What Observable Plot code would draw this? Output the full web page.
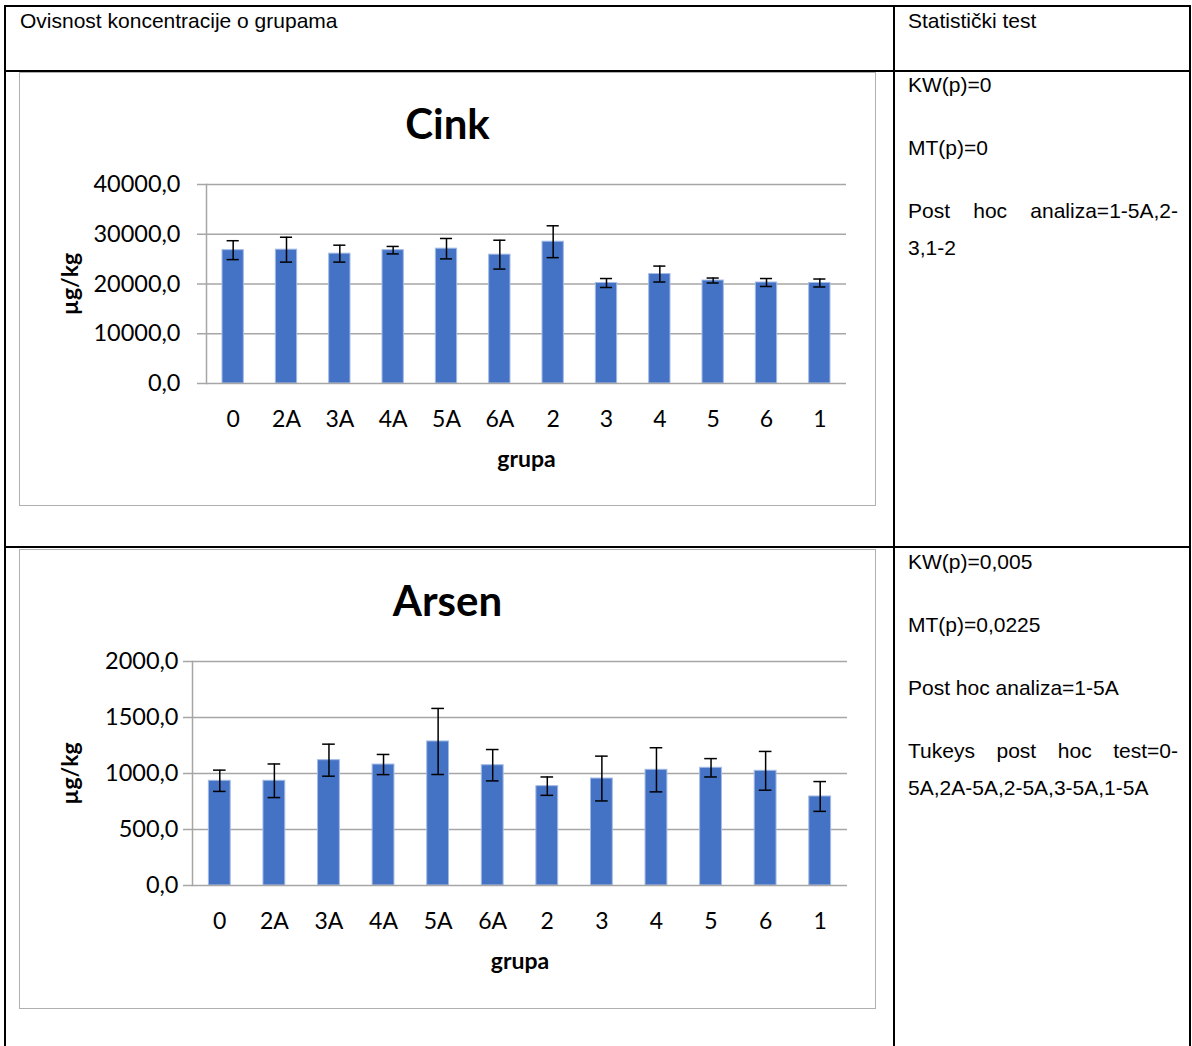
<!DOCTYPE html>
<html>
<head>
<meta charset="utf-8">
<script src="https://cdn.jsdelivr.net/npm/d3@7"></script>
<script src="https://cdn.jsdelivr.net/npm/@observablehq/plot@0.6"></script>
<style>
  body { margin: 0; background: #fff; }
  #page { position: relative; width: 1192px; height: 1046px; overflow: hidden; font-family: "Liberation Sans", Arial, sans-serif; color: #000; }
  .ln { position: absolute; background: #000; }
  .frame { position: absolute; border: 1.5px solid #b0b0b0; box-sizing: border-box; }
  .txt { position: absolute; font-size: 21px; white-space: nowrap; line-height: 24px; }
  .stats { position: absolute; left: 908px; width: 270px; font-size: 21px; line-height: 37px; }
  .stats p { margin: 0 0 26px 0; }
  .just { text-align: justify; text-align-last: justify; }
  .ctitle { position: absolute; left: 19px; width: 857px; text-align: center; font-family: Lato, sans-serif; font-weight: bold; font-size: 42px; line-height: 42px; }
  .chart { position: absolute; left: 19px; }
</style>
</head>
<body>
<div id="page">
  <!-- table grid -->
  <div class="ln" style="left:4px;top:5px;width:1187px;height:2px"></div>
  <div class="ln" style="left:4px;top:70px;width:1187px;height:2px"></div>
  <div class="ln" style="left:4px;top:546px;width:1187px;height:2px"></div>
  <div class="ln" style="left:4px;top:5px;width:2px;height:1041px"></div>
  <div class="ln" style="left:893px;top:5px;width:2px;height:1041px"></div>
  <div class="ln" style="left:1189px;top:5px;width:2px;height:1041px"></div>

  <div class="txt" style="left:20px;top:9px">Ovisnost koncentracije o grupama</div>
  <div class="txt" style="left:908px;top:9px">Statistički test</div>

  <div class="frame" style="left:19px;top:72px;width:857px;height:434px"></div>
  <div class="frame" style="left:19px;top:549px;width:857px;height:460px"></div>

  <div class="ctitle" style="top:102px">Cink</div>
  <div class="ctitle" style="top:579px">Arsen</div>

  <div class="chart" id="cink" style="top:160px"></div>
  <div class="chart" id="arsen" style="top:637px"></div>

  <div class="stats" style="top:66px">
    <p>KW(p)=0</p>
    <p>MT(p)=0</p>
    <p><span style="display:block" class="just">Post hoc analiza=1-5A,2-</span>3,1-2</p>
  </div>
  <div class="stats" style="top:543px">
    <p>KW(p)=0,005</p>
    <p>MT(p)=0,0225</p>
    <p>Post hoc analiza=1-5A</p>
    <p><span style="display:block" class="just">Tukeys post hoc test=0-</span>5A,2A-5A,2-5A,3-5A,1-5A</p>
  </div>
</div>
<script>
const groups = ["0", "2A", "3A", "4A", "5A", "6A", "2", "3", "4", "5", "6", "1"];
const cinkMean = [26800, 26900, 26100, 26800, 27100, 25900, 28500, 20200, 22000, 20700, 20300, 20200];
const cinkErr  = [1900, 2500, 1700, 750, 2050, 2900, 3200, 900, 1600, 500, 800, 800];
const arsenMean = [935, 935, 1119, 1080, 1286, 1074, 887, 955, 1033, 1051, 1024, 795];
const arsenErr  = [95, 150, 143, 90, 295, 140, 82, 200, 197, 82, 173, 133];
const cinkTicks = [0, 10000, 20000, 30000, 40000];
const arsenTicks = [0, 500, 1000, 1500, 2000];
const yLabel = "µg/kg";
const xLabel = "grupa";

const fmt = d => d.toFixed(1).replace(".", ",");

function chart(means, errs, ticks, plotHeight, marginLeft, marginRight, tickPadding, yLabelOffset) {
  const data = groups.map((g, i) => ({g, v: means[i], lo: means[i] - errs[i], hi: means[i] + errs[i]}));
  const grid = "#a6a6a6";
  return Plot.plot({
    width: 857,
    height: 24 + plotHeight + 107,
    marginTop: 24,
    marginBottom: 107,
    marginLeft,
    marginRight,
    style: {fontFamily: "Lato, sans-serif", fontSize: "23px", color: "#000", background: "transparent", overflow: "visible"},
    x: {domain: groups, paddingInner: 0.6, paddingOuter: 0.3, round: false},
    y: {domain: [0, ticks[ticks.length - 1]]},
    marks: [
      Plot.ruleY(ticks.filter(t => t !== 0), {stroke: grid, strokeWidth: 1.5}),
      Plot.barY(data, {x: "g", y: "v", fill: "#4472C4", stroke: "#a4bbe5", strokeWidth: 1}),
      Plot.ruleY([0], {stroke: grid, strokeWidth: 1.5}),
      Plot.frame({anchor: "left", stroke: grid, strokeWidth: 1.5}),
      Plot.ruleX(data, {x: "g", y1: "lo", y2: "hi", stroke: "#000", strokeWidth: 1.5}),
      Plot.tickY(data, {x: "g", y: "hi", stroke: "#000", strokeWidth: 1.5, insetLeft: 4.6, insetRight: 4.6}),
      Plot.tickY(data, {x: "g", y: "lo", stroke: "#000", strokeWidth: 1.5, insetLeft: 4.6, insetRight: 4.6}),
      Plot.axisY(ticks, {anchor: "left", tickSize: 9, tickPadding, stroke: grid, strokeWidth: 1.5, tickFormat: fmt, label: null, fontSize: 23.5}),
      Plot.axisY([], {anchor: "left", label: yLabel, labelAnchor: "center", labelOffset: yLabelOffset, labelArrow: "none", fontWeight: "bold", fontSize: 23}),
      Plot.axisX(groups, {anchor: "bottom", tickSize: 0, tickPadding: 27, label: null, fontSize: 23}),
      Plot.axisX([], {anchor: "bottom", tickSize: 0, label: xLabel, labelAnchor: "center", labelOffset: 83, fontWeight: "bold", fontSize: 23})
    ]
  });
}

document.getElementById("cink").append(chart(cinkMean, cinkErr, cinkTicks, 199, 187, 30, 17, 145));
document.getElementById("arsen").append(chart(arsenMean, arsenErr, arsenTicks, 224, 173, 29, 5, 131));
</script>
</body>
</html>
